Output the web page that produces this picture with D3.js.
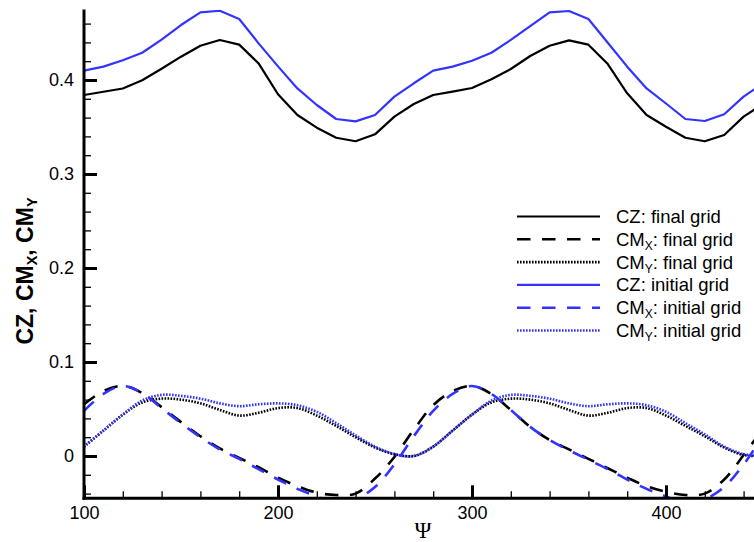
<!DOCTYPE html>
<html>
<head>
<meta charset="utf-8">
<script src="https://cdn.jsdelivr.net/npm/d3@7/dist/d3.min.js"></script>
<style>
  html, body { margin: 0; padding: 0; background: #fff; }
  svg { display: block; font-family: "Liberation Sans", Arial, sans-serif; }
</style>
</head>
<body>
<svg id="chart" width="754" height="542"></svg>
<script>
// Azimuth angle psi (deg)
const psi = [100, 110, 120, 130, 140, 150, 160, 170, 180, 190,
             200, 210, 220, 230, 240, 250, 260, 270, 280, 290,
             300, 310, 320, 330, 340, 350, 360, 370, 380, 390,
             400, 410, 420, 430, 440, 450];

// Thrust coefficient CZ
const czFinal = [0.384, 0.3875, 0.391, 0.3997, 0.412, 0.4248, 0.4365, 0.4426, 0.4376, 0.4177,
                 0.3848, 0.3628, 0.3493, 0.3386, 0.3348, 0.3422, 0.361, 0.3745, 0.384, 0.3876,
                 0.3915, 0.4007, 0.4117, 0.4255, 0.4365, 0.4422, 0.4376, 0.417, 0.3858, 0.3628,
                 0.3503, 0.3386, 0.3348, 0.3415, 0.361, 0.3745];
const czInitial = [0.410, 0.4142, 0.421, 0.429, 0.443, 0.4585, 0.472, 0.4737, 0.4649, 0.439,
                   0.4145, 0.391, 0.3734, 0.3585, 0.356, 0.3628, 0.3823, 0.3965, 0.410, 0.4142,
                   0.4205, 0.429, 0.4426, 0.4574, 0.472, 0.4734, 0.4649, 0.4397, 0.4142, 0.391,
                   0.375, 0.3585, 0.3564, 0.3635, 0.3823, 0.3965];

// Rolling moment CMX
const cmxFinal = [0.055, 0.069, 0.0745, 0.067, 0.052, 0.036, 0.021, 0.008, -0.002, -0.012,
                  -0.023, -0.032, -0.039, -0.0415, -0.040, -0.024, -0.001, 0.028, 0.054, 0.069,
                  0.0745, 0.066, 0.049, 0.031, 0.017, 0.007, -0.003, -0.013, -0.023, -0.032,
                  -0.038, -0.0415, -0.040, -0.025, 0.001, 0.029];
const cmxInitial = [0.048, 0.066, 0.0745, 0.067, 0.051, 0.035, 0.020, 0.007, -0.003, -0.014,
                    -0.025, -0.035, -0.043, -0.050, -0.046, -0.033, -0.009, 0.021, 0.048, 0.066,
                    0.0745, 0.066, 0.049, 0.031, 0.017, 0.006, -0.004, -0.014, -0.025, -0.035,
                    -0.043, -0.050, -0.046, -0.033, -0.009, 0.021];

// Pitching moment CMY
const cmyFinal = [0.010, 0.027, 0.044, 0.057, 0.061, 0.060, 0.056, 0.049, 0.043, 0.046,
                  0.051, 0.051, 0.043, 0.032, 0.020, 0.009, 0.002, 0.000, 0.010, 0.027,
                  0.044, 0.057, 0.061, 0.060, 0.056, 0.049, 0.043, 0.046, 0.051, 0.051,
                  0.043, 0.032, 0.021, 0.009, 0.001, 0.000];
const cmyInitial = [0.010, 0.027, 0.044, 0.059, 0.065, 0.064, 0.061, 0.056, 0.053, 0.055,
                    0.056, 0.054, 0.047, 0.035, 0.022, 0.010, 0.002, 0.000, 0.010, 0.027,
                    0.044, 0.059, 0.065, 0.064, 0.061, 0.056, 0.053, 0.055, 0.056, 0.054,
                    0.047, 0.035, 0.023, 0.010, 0.002, 0.000];

const xMajorTicks = [100, 200, 300, 400];
const yMajorTicks = [0, 0.1, 0.2, 0.3, 0.4];

const BLUE = "#3333ff";
const DASH = "13.5,11.5";
const DOT = "1.6,1.4";

const series = [
  { name: "CZ", sub: null, grid: "final grid", values: czFinal, color: "#000", dash: null, width: 2.2, smooth: false },
  { name: "CM", sub: "X", grid: "final grid", values: cmxFinal, color: "#000", dash: DASH, width: 2.6, smooth: true },
  { name: "CM", sub: "Y", grid: "final grid", values: cmyFinal, color: "#000", dash: DOT, width: 2.6, smooth: true },
  { name: "CZ", sub: null, grid: "initial grid", values: czInitial, color: BLUE, dash: null, width: 2.2, smooth: false },
  { name: "CM", sub: "X", grid: "initial grid", values: cmxInitial, color: BLUE, dash: DASH, width: 2.6, smooth: true },
  { name: "CM", sub: "Y", grid: "initial grid", values: cmyInitial, color: BLUE, dash: DOT, width: 2.6, smooth: true }
];

const svg = d3.select("#chart");
const W = 754, H = 542;
const plotLeft = 84, plotTop = 9.5, plotBottom = 498.3;

const x = d3.scaleLinear().domain([100, 450]).range([plotLeft, plotLeft + 350 * 1.94]);
const y = d3.scaleLinear().domain([-0.045, 0.475]).range([plotBottom, plotTop]);

svg.append("defs").append("clipPath").attr("id", "plotClip")
  .append("rect")
  .attr("x", plotLeft).attr("y", plotTop)
  .attr("width", W - plotLeft).attr("height", plotBottom - plotTop);

// Curves
const plot = svg.append("g").attr("clip-path", "url(#plotClip)");
series.forEach(s => {
  const line = d3.line()
    .x((d, i) => x(psi[i]))
    .y(d => y(d))
    .curve(s.smooth ? d3.curveCatmullRom.alpha(0.5) : d3.curveLinear);
  plot.append("path")
    .datum(s.values)
    .attr("fill", "none")
    .attr("stroke", s.color)
    .attr("stroke-width", s.width)
    .attr("stroke-linejoin", "round")
    .attr("stroke-dasharray", s.dash)
    .attr("d", line);
});

// Axes: ticks point into the plot
const xMinor = d3.range(100, 451, 20).filter(v => !xMajorTicks.includes(v));
const yMinor = d3.range(-0.04, 0.4701, 0.02).map(v => +v.toFixed(2))
  .filter(v => !yMajorTicks.some(t => Math.abs(t - v) < 1e-9));

const xAxisMajor = d3.axisBottom(x).tickValues(xMajorTicks).tickSize(-13).tickPadding(8).tickFormat(d3.format("d"));
const xAxisMinor = d3.axisBottom(x).tickValues(xMinor).tickSize(-7).tickFormat("");
const yAxisMajor = d3.axisLeft(y).tickValues(yMajorTicks).tickSize(-13).tickPadding(10)
  .tickFormat(d => d === 0 ? "0" : d3.format(".1f")(d));
const yAxisMinor = d3.axisLeft(y).tickValues(yMinor).tickSize(-7).tickFormat("");

function styleAxis(g, tickWidth) {
  g.select(".domain").remove();
  g.selectAll(".tick line").attr("stroke", "#000").attr("stroke-width", tickWidth);
  g.selectAll(".tick text").attr("fill", "#000").attr("font-size", 18)
    .attr("font-family", "'Liberation Sans', Arial, sans-serif");
}

svg.append("g").attr("transform", `translate(0,${plotBottom})`).call(xAxisMinor).call(g => styleAxis(g, 1.3));
svg.append("g").attr("transform", `translate(0,${plotBottom})`).call(xAxisMajor).call(g => styleAxis(g, 3));
svg.append("g").attr("transform", `translate(${plotLeft},0)`).call(yAxisMinor).call(g => styleAxis(g, 1.3));
svg.append("g").attr("transform", `translate(${plotLeft},0)`).call(yAxisMajor).call(g => styleAxis(g, 3));

// Axis lines (left and bottom only)
svg.append("line").attr("x1", plotLeft).attr("x2", plotLeft).attr("y1", plotTop).attr("y2", plotBottom + 1.5)
  .attr("stroke", "#000").attr("stroke-width", 3);
svg.append("line").attr("x1", plotLeft - 1.5).attr("x2", W).attr("y1", plotBottom).attr("y2", plotBottom)
  .attr("stroke", "#000").attr("stroke-width", 3);

// Axis titles
svg.append("text")
  .attr("x", 423).attr("y", 538)
  .attr("text-anchor", "middle")
  .attr("font-family", "'Liberation Serif', 'DejaVu Serif', serif")
  .attr("font-size", 23)
  .text("Ψ");

const yTitle = svg.append("text")
  .attr("transform", "translate(33,271) rotate(-90)")
  .attr("text-anchor", "middle")
  .attr("font-weight", "bold")
  .attr("font-size", 23);
yTitle.append("tspan").text("CZ, CM");
yTitle.append("tspan").attr("font-size", 14.5).attr("dy", 4).text("X");
yTitle.append("tspan").attr("dy", -4).text(", CM");
yTitle.append("tspan").attr("font-size", 14.5).attr("dy", 4).text("Y");

// Legend
const legend = svg.append("g");
const rowY = d => 216.5 + d * 22.8;
series.forEach((s, i) => {
  const yy = rowY(i);
  legend.append("line")
    .attr("x1", 517).attr("x2", 600).attr("y1", yy).attr("y2", yy)
    .attr("stroke", s.color).attr("stroke-width", s.width)
    .attr("stroke-dasharray", s.dash);
  const t = legend.append("text")
    .attr("x", 616).attr("y", yy + 6.5)
    .attr("font-size", 18.5).attr("fill", "#000");
  t.append("tspan").text(s.name);
  if (s.sub) {
    t.append("tspan").attr("font-size", 12).attr("dy", 4).text(s.sub);
    t.append("tspan").attr("dy", -4).text(": " + s.grid);
  } else {
    t.append("tspan").text(": " + s.grid);
  }
});
</script>
</body>
</html>
